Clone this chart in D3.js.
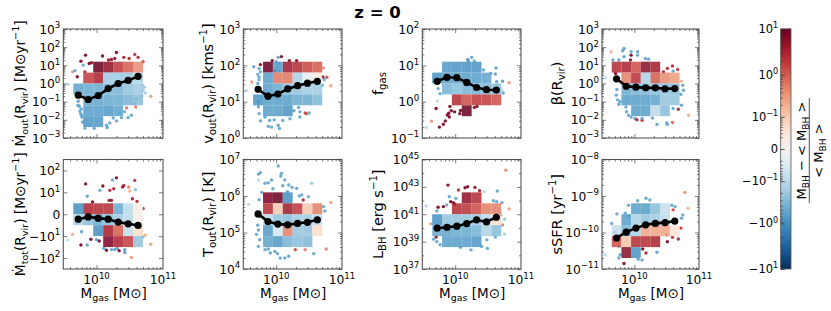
<!DOCTYPE html>
<html>
<head>
<meta charset="utf-8">
<script src="https://cdn.jsdelivr.net/npm/d3@7"></script>
<style>
  html, body { margin: 0; background: #fff; }
  text { font-family: "DejaVu Sans", sans-serif; fill: #000; }
  .domain { display: none; }
</style>
</head>
<body>
<div id="chart"></div>
<script>
// Mass bins shared by the median lines (log10 Msun)
const massBins = [9.725, 9.875, 10.025, 10.175, 10.325, 10.475, 10.625];

// Median lines
const outLine  = [-0.64, -0.88, -0.66, -0.28, 0, 0.17, 0.39];
const voutLine = [1.34, 1.15, 1.21, 1.35, 1.44, 1.51, 1.56];
const fgasLine = [0.56, 0.67, 0.66, 0.53, 0.39, 0.33, 0.32];
const betaLine = [0.26, -0.15, -0.2, -0.24, -0.24, -0.29, -0.28];
const totLine  = [-0.8, -0.38, -0.6, -0.8, -1.5, -2, -2.6];
const toutLine = [5.51, 5.30, 5.23, 5.21, 5.25, 5.28, 5.35];
const lbhLine  = [39.98, 40.05, 40.13, 40.32, 40.59, 40.44, 40.78];
const ssfrLine = [-10.15, -9.99, -9.88, -9.79, -9.75, -9.73, -9.69];

// Binned deviation, top row first, 10 x 10 across each axes box
const _ = null;
const outCells = [
  [_,_,_,_,_,_,_,_,_,_], [_,_,_,_,_,_,_,_,_,_], [_,_,_,_,_,_,_,_,_,_],
  [_,_,_,10,5,2,1,.4,_,_],
  [_,_,1.7,3,-.2,-.2,-.2,-.15,_,_],
  [_,-.6,-.5,-.5,-.4,-.4,-.25,-.2,_,_],
  [_,_,-.6,-.6,-.5,-.5,-.4,-.3,_,_],
  [_,_,-.7,-.7,-.8,-.6,_,_,_,_],
  [_,_,-.9,-.8,_,_,_,_,_,_],
  [_,_,_,_,_,_,_,_,_,_]
];
const voutCells = [
  [_,_,_,_,_,_,_,_,_,_], [_,_,_,_,_,_,_,_,_,_], [_,_,_,_,_,_,_,_,_,_],
  [_,_,10,-.7,4,2.5,1.5,1,_,_],
  [_,_,-.7,.6,.6,-.15,-.02,.02,_,_],
  [_,_,-.7,-.5,-.3,-.25,-.2,-.2,_,_],
  [_,-.9,-.7,-.7,-.7,-.5,-.5,-.35,_,_],
  [_,_,-.7,-.7,-.9,_,_,_,_,_],
  [_,_,_,_,_,_,_,_,_,_], [_,_,_,_,_,_,_,_,_,_]
];
const fgasCells = [
  [_,_,_,_,_,_,_,_,_,_], [_,_,_,_,_,_,_,_,_,_], [_,_,_,_,_,_,_,_,_,_],
  [_,_,-.8,-.9,-.9,-.9,_,_,_,_],
  [_,-.9,-.7,-.7,-.7,-.7,-.6,_,_,_],
  [_,_,-.4,-.3,-.4,-.4,-.4,-.3,_,_],
  [_,_,_,2.5,1.2,2,1.8,1.2,_,_],
  [_,_,_,_,10,_,_,_,_,_],
  [_,_,_,_,_,_,_,_,_,_], [_,_,_,_,_,_,_,_,_,_]
];
const betaCells = [
  [_,_,_,_,_,_,_,_,_,_], [_,_,_,_,_,_,_,_,_,_], [_,_,_,_,_,_,_,_,_,_],
  [_,2.5,3,1.2,6,3.5,_,_,_,_],
  [_,_,.5,2.2,-.15,1,.4,.3,_,_],
  [_,_,-.5,-.4,-.35,-.3,-.3,-.3,_,_],
  [_,_,-.7,-.7,-.7,-.6,-.25,-.25,_,_],
  [_,_,_,-.7,-.7,-.1,-.3,_,_,_],
  [_,_,_,_,_,_,_,_,_,_], [_,_,_,_,_,_,_,_,_,_]
];
const totCells = [
  [_,_,_,_,_,_,_,_,_,_], [_,_,_,_,_,_,_,_,_,_], [_,_,_,_,_,_,_,_,_,_], [_,_,_,_,_,_,_,_,_,_],
  [_,-1,3,2.5,2.5,-.5,-.1,.01,_,_],
  [_,-.15,-.3,-.5,-.3,-.2,-.1,.01,_,_],
  [_,_,_,-1,3.5,1,-.08,.05,_,_],
  [_,_,_,_,7,3,1.7,-.25,_,_],
  [_,_,_,_,_,_,_,_,_,_], [_,_,_,_,_,_,_,_,_,_]
];
const toutCells = [
  [_,_,_,_,_,_,_,_,_,_], [_,_,_,_,_,_,_,_,_,_], [_,_,_,_,_,_,_,_,_,_],
  [_,_,7,10,-1,_,_,_,_,_],
  [_,_,2.5,.1,4,2,.1,.5,_,_],
  [_,_,-.1,-.25,-.3,-.2,-.2,-.1,_,_],
  [_,_,-.8,-.05,.5,-.25,-.25,.05,_,_],
  [_,_,-.6,-.8,-.4,-.3,-.35,_,_,_],
  [_,_,_,_,_,_,_,_,_,_], [_,_,_,_,_,_,_,_,_,_]
];
const lbhCells = [
  [_,_,_,_,_,_,_,_,_,_], [_,_,_,_,_,_,_,_,_,_], [_,_,_,_,_,_,_,_,_,_],
  [_,_,_,_,5,2.5,_,_,_,_],
  [_,_,_,2.5,2.2,1.3,.5,.5,_,_],
  [_,-1,-.25,-.25,-.25,-.2,-.1,.05,_,_],
  [_,-.5,-.6,-.5,-.5,-.4,-.15,-.3,_,_],
  [_,_,-.7,-.7,-.7,-.8,_,_,_,_],
  [_,_,_,_,_,_,_,_,_,_], [_,_,_,_,_,_,_,_,_,_]
];
const ssfrCells = [
  [_,_,_,_,_,_,_,_,_,_], [_,_,_,_,_,_,_,_,_,_], [_,_,_,_,_,_,_,_,_,_], [_,_,_,_,_,_,_,_,_,_],
  [_,_,_,-.7,-.7,-.3,-.08,_,_,_],
  [_,_,-.7,-.15,-.25,-.2,-.1,_,_,_],
  [_,-.08,-.4,-.15,.25,.25,.25,.03,_,_],
  [_,1.2,.12,2.5,2.5,3,_,_,_,_],
  [_,_,6,-.9,_,_,_,_,_,_],
  [_,_,_,_,_,_,_,_,_,_]
];

// Scatter galaxies: log10 Mgas, log10 y (plain y for Mtot), deviation
const outPts = [
  [9.765,1.23,8],[9.835,1.56,8],[9.89,1.1,8],[9.925,1.14,6],[10.09,1.51,8],[10.18,1.29,6],[10.225,1.32,5],[10.3,1.71,8],
  [10.275,1.38,5],[10.41,1.44,4],[10.49,1.38,3],[10.575,1.6,2],[10.625,1.44,3],[10.7,1.2,1.5],[9.825,.64,3],[9.71,.37,8],
  [9.64,.64,.3],[9.675,.7,-.6],[9.8,1.01,-.5],[9.575,-.05,-.1],[10.815,-.7,.3],[10.735,-.52,-.15],[10.59,-.85,-.6],
  [10.59,-1.29,.5],[10.575,-1.1,.8],[10.45,-1.34,.8],[10.525,-1.75,-.6],[10.475,-1.88,-.6],[10.375,-1.88,-.6],[10.3,-2.06,-.6],
  [10.2,-2.17,-.6],[10.15,-2.3,-.6],[9.965,-2.47,-.6],[9.725,-.98,-.6],[9.74,-1.25,-.6],[9.75,-1.51,-.6],[9.775,-1.75,-.6],
  [9.79,-2.12,-.6],[9.76,-1.66,-.6],[9.825,-2.47,-.5],[10.69,-.1,-.2],[10.7,-.37,-.2],[10.6,.37,-.2],
  [10.25,-1.9,-.6],[10.35,-1.6,-.6],[10.42,-1.55,-.5],[10.16,-2.42,-.6],[9.78,-1.85,-.6],[9.72,-1.2,-.6],[9.77,-1.4,-.6],[10.68,-.68,-.2],[10.72,-.2,-.2]
];
const voutPts = [
  [9.66,1.96,-.6],[9.76,2.02,8],[9.74,1.91,-.6],[9.76,1.82,-.6],[9.74,1.68,-.6],[9.72,1.5,-.6],[9.94,2.13,8],[10.03,2.22,-.6],
  [10.08,2.24,8],[10,2.1,-.6],[10.05,1.85,-.6],[9.98,1.85,8],[10.2,2.13,8],[10.31,2.13,8],[10.72,1.93,.3],[10.71,1.68,8],
  [10.77,1.67,1.2],[10.73,1.61,-.6],[10.83,1.44,.3],[9.55,1.31,-.1],[9.63,1.54,.3],[9.73,.86,-.6],[9.74,.67,-.6],[9.76,.47,-.6],
  [9.88,.32,-.6],[9.93,.3,-.6],[10.03,.35,-.6],[10.05,.26,-.6],[9.83,.58,-.6],[10.21,.53,-.6],[10.34,.84,-.6],[10.36,.72,-.6],
  [10.46,.67,1],[10.36,.58,-.6],[10.44,.69,1.5],[10.5,.69,-.6],
  [9.72,1.75,-.5],[9.74,1.6,-.6],[10.05,2.05,-.6],[10.02,1.95,-.6],[9.97,.5,-.6],[10.1,.48,-.6],[9.9,.48,-.6],[10.27,.75,-.6],[10.7,1.45,-.6],[9.73,1.0,-.6]
];
const fgasPts = [
  [10.19,1.16,-.8],[10.25,1.22,-.7],[10.2,1.12,-.7],[10.29,1.12,-.5],[10.43,.87,-.6],[10.54,.78,-.6],[10.62,.93,-.7],[10.61,.76,-.6],
  [10.63,.55,-.6],[10.72,.56,-.7],[10.82,.52,.3],[10.71,.32,-.1],[10.73,.24,-.6],[9.74,.36,-.6],[9.77,.22,-.6],[9.73,.02,-.1],
  [9.71,-.19,8],[9.92,-.13,8],[9.94,-.25,8],[9.99,-.28,8],[9.88,-.37,8],[9.91,-.42,8],[9.9,-.32,8],[10.07,-.33,8],[10.08,-.24,8],
  [10.33,-.13,8],[10.29,-.16,6],[9.85,-.53,8],[9.82,-.62,8],[9.76,-.7,8],[9.64,-.54,.3],[9.56,-.71,-.1]
];
const betaPts = [
  [9.64,1.75,.2],[9.84,1.93,-.7],[9.82,1.8,-.7],[9.95,1.75,-.5],[10.05,1.75,-.6],[10.05,1.56,-.6],[9.95,1.56,8],[9.94,1.29,6],
  [9.84,1.47,-.7],[9.76,1.29,-.7],[9.67,1.29,-.7],[10.17,1.38,-.6],[10.22,1.34,-.6],[9.71,.55,8],[10.45,.64,4],[10.51,.83,3],
  [10.59,.97,3],[10.67,.77,2],[10.6,.68,-.6],[10.73,.13,.2],[10.75,-.09,-.6],[10.76,-.37,-.6],[9.73,-.33,-.6],[9.72,-.64,-.6],
  [9.76,-1.14,-.6],[9.87,-1.29,-.6],[9.91,-1.75,-.6],[10.01,-1.93,-.6],[10.04,-1.99,3],[10.12,-2.03,2],[10.35,-2.25,-.6],
  [10.5,-2.17,-.6],[10.51,-2.26,-.6],[10.59,-2.15,.8],[10.6,-1.38,-.6],[10.68,-1.42,3],[10.84,-1.75,.2],[9.55,.31,-.1],[10.73,-1.2,-.6],
  [9.74,-.9,-.6],[9.78,-1.0,-.6],[9.88,-1.55,-.6],[9.95,-1.85,-.6],[10.12,-1.92,-.6],[10.28,-1.9,-.6],[10.72,-.6,-.6]
];
const totPts = [
  [9.835,25,8],[10.24,38,-.6],[10.3,47,8],[9.86,6.3,-.6],[10.05,12.5,-.6],[10.095,20,8],[10.2,12.5,3],[10.26,15,3],[10.41,21,3],
  [10.485,18,.5],[10.575,36,2],[10.585,13.4,-.3],[10.5,11.6,.2],[10.39,18,4],[9.94,3,8],[10.19,3.8,6],[10.225,3.8,6],[10.54,4.7,4],
  [10.61,3.3,3],[10.7,.96,3],[9.64,-8.2,.2],[9.775,-6,-.7],[9.565,-15.5,-.1],[9.765,-26,8],[9.86,-26,-.7],[9.915,-14,8],[10.04,-17,8],
  [10,-15,-.7],[10.7,-10.7,-.3],[10.735,-9,.2],[10.815,-24,.3],[10.525,-94,.3],[10.11,-37,-.7],[10.15,-45,8],[10.225,-42,-.7],
  [10.275,-42,-.7],[10.31,-37,-.7],[10.34,-47,8],[10.425,-56,-.7],[10.425,-42,-.7]
];
const toutPts = [
  [9.73,6.6,-.6],[9.76,6.64,-.6],[10.03,6.82,-.6],[10.08,6.62,-.6],[10.07,6.55,-.6],[9.73,6.44,-.1],[9.93,6.44,-.6],[9.83,6.35,-.6],
  [9.88,6.36,-.6],[10.13,6.44,-.6],[10.19,6.3,-.6],[10.24,6.24,-.5],[10.54,6.35,-.2],[10.39,6.03,-.6],[10.41,5.89,3],[10.49,5.98,-.5],
  [10.31,6.21,-.6],[9.58,5.77,-.1],[10.83,5.82,.3],[10.72,5.71,-.6],[10.74,5.59,-.6],[9.75,5.44,-.6],[9.73,5.07,-.6],[9.75,4.8,-.6],
  [9.73,4.62,-.6],[9.91,4.44,-.6],[9.83,4.53,-.6],[10.06,4.3,-.6],[10.13,4.3,-.6],[10.19,4.35,-.6],[10.29,4.53,1.5],[10.44,4.53,.5],
  [10.57,4.42,-.6],[10.76,4.55,.5],[9.98,4.48,-.6],
  [9.95,6.2,-.6],[10.1,6.28,-.6],[10.17,6.12,-.6],[9.78,6.1,-.6],[9.74,5.9,-.6],[9.72,5.2,-.6],[9.7,4.95,-.6],[10.35,6.0,-.6],[10.02,4.42,-.6],[9.88,4.55,-.6]
];
const lbhPts = [
  [10.77,44.22,.4],[9.89,43.13,8],[10.05,42.77,2.5],[10.15,42.94,8],[10.19,43.01,8],[10.3,42.96,6],[10.37,42.72,4],[10.44,42.65,-.1],
  [10.64,42.7,-.6],[9.91,42.28,-.6],[9.82,41.56,8],[9.74,41.51,8],[9.87,41.68,-.6],[9.93,41.92,8],[9.97,41.85,8],[9.99,41.75,8],
  [10.01,42.16,-.6],[9.56,41.6,-.1],[9.72,41.24,-.6],[10.58,41.99,-.6],[10.63,41.92,-.6],[10.71,41.85,-.6],[10.82,41.39,.3],
  [10.69,40.93,-.6],[10.75,40.64,-.2],[9.63,40.3,.3],[10.72,40.22,.5],[9.67,39.18,-.6],[9.71,39.33,8],[9.72,39,-.6],[9.77,38.77,-.6],
  [10.24,38.4,-.6],[10.49,38.5,-.6],[10.4,38.65,-.6],[10.48,39.13,-.6],[10.61,39.33,-.6],[10.75,39.55,-.2],[10.08,38.58,-.7]
];
const ssfrPts = [
  [10.78,-8.9,.4],[10.18,-9.06,-.6],[10.05,-9.13,-.6],[10.24,-9.11,-.6],[9.91,-9.25,-.6],[10.58,-9.25,-.6],[10.63,-9.29,-.6],[10.6,-9.38,1.5],
  [10.83,-9.34,.2],[10.75,-9.52,-.6],[10.73,-9.61,-.6],[9.73,-9.49,-.6],[9.65,-9.75,-.6],[9.86,-9.47,-.6],[9.91,-9.54,-.6],[9.7,-10,-.6],
  [9.69,-10.2,-.6],[10.72,-9.88,2],[10.68,-10.18,3],[10.59,-10.13,2.5],[10.5,-10.06,3],[10.51,-10.25,8],[10.13,-10.45,8],[10.18,-10.56,3],
  [10.35,-10.54,-.6],[9.55,-10.61,-.1],[9.76,-10.7,-.6],[9.84,-10.85,8],[10.06,-10.73,-.6],[10.12,-10.75,-.6],[9.78,-10.61,-.6],[9.76,-10.38,-.6]
];

// Tick labels
const cbarTicks = [10, 1, .1, 0, -.1, -1, -10];
const cbarLabels = ['10^{1}', '10^{0}', '10^{−1}', '0', '−10^{−1}', '−10^{0}', '−10^{1}'];
const totTicks = [100, 10, 0, -10, -100];
const totLabels = ['10^{2}', '10^{1}', '0', '−10^{1}', '−10^{2}'];

const width = 831, height = 311;
const svg = d3.select('#chart').append('svg')
  .attr('width', width)
  .attr('height', height)
  .style('display', 'block');

// soften the marks a little, the original is a downsampled raster
svg.append('defs').append('filter')
    .attr('id', 'soft')
    .attr('x', '-5%').attr('y', '-5%')
    .attr('width', '110%').attr('height', '110%')
  .append('feGaussianBlur')
    .attr('stdDeviation', 0.45);

// sub/superscript text: "M_{gas} [M⊙]"
function rich(sel, str, size) {
  sel.text(null).attr('font-size', size);
  let shift = 0;
  for (const m of str.matchAll(/([_^])\{([^}]*)\}|([^_^]+)/g)) {
    const kind = m[1] === '_' ? 'sub' : m[1] === '^' ? 'sup' : null;
    const fs = kind ? size * 0.7 : size;
    const target = kind === 'sub' ? size * 0.22 : kind === 'sup' ? -size * 0.42 : 0;
    sel.append('tspan')
      .attr('font-size', fs)
      .attr('dy', target - shift)
      .text(m[2] !== undefined ? m[2] : m[3]);
    shift = target;
  }
}

// Deviation colour, symlog stretch fitted to the colourbar ticks
const devScale = d3.scaleSymlog().constant(0.025).domain([-10, 10]).range([0, 1]).clamp(true);
const devColor = v => d3.interpolateRdBu(1 - devScale(v));

const xTicksMinor = d3.range(4e9, 1e10, 1e9).concat(d3.range(2e10, 1e11, 1e10));

function logMinors(lo, hi) {
  const out = [];
  for (let e = lo; e < hi; e++) for (let k = 2; k < 10; k++) out.push(k * Math.pow(10, e));
  return out;
}

function logTicks(lo, hi, step) {
  const v = [];
  for (let e = lo; e <= hi; e += step) v.push(Math.pow(10, e));
  return v;
}

const tickSize = 12.3, labelSize = 14.5, dotLabelSize = 13.7;
const rowTop = [29, 138], rowBottom = [159.5, 269];
const cols = [[63.3, 163], [243.3, 342], [422.3, 521], [602, 699]];

const panels = [
  { col: 0, row: rowTop, lo: -3, hi: 3, step: 1, cells: outCells, pts: outPts, line: outLine, label: 'Ṁ_{out}(R_{vir}) [M⊙yr^{−1}]', lx: 25, ls: dotLabelSize },
  { col: 1, row: rowTop, lo: 0, hi: 3, step: 1, cells: voutCells, pts: voutPts, line: voutLine, label: 'v_{out}(R_{vir}) [kms^{−1}]', lx: 213, ls: labelSize },
  { col: 2, row: rowTop, lo: -1, hi: 2, step: 1, cells: fgasCells, pts: fgasPts, line: fgasLine, label: 'f_{gas}', lx: 383, ls: labelSize },
  { col: 3, row: rowTop, lo: -3, hi: 3, step: 1, cells: betaCells, pts: betaPts, line: betaLine, label: 'β(R_{vir})', lx: 562, ls: labelSize },
  { col: 0, row: rowBottom, sym: true, cells: totCells, pts: totPts, line: totLine, label: 'Ṁ_{tot}(R_{vir}) [M⊙yr^{−1}]', lx: 25, ls: dotLabelSize },
  { col: 1, row: rowBottom, lo: 4, hi: 7, step: 1, cells: toutCells, pts: toutPts, line: toutLine, label: 'T_{out}(R_{vir}) [K]', lx: 213, ls: labelSize },
  { col: 2, row: rowBottom, lo: 37, hi: 45, step: 2, cells: lbhCells, pts: lbhPts, line: lbhLine, label: 'L_{BH} [erg s^{−1}]', lx: 383, ls: labelSize },
  { col: 3, row: rowBottom, lo: -11, hi: -8, step: 1, cells: ssfrCells, pts: ssfrPts, line: ssfrLine, label: 'sSFR [yr^{−1}]', lx: 562, ls: labelSize }
];

panels.forEach(p => {
  const [x0, x1] = cols[p.col];
  const [y0, y1] = p.row;
  const bottomRow = p.row === rowBottom;

  const x = d3.scaleLog().domain([Math.pow(10, 9.5), 1e11]).range([x0, x1]);
  const y = p.sym
    ? d3.scaleSymlog().constant(1.25).domain([-302, 302]).range([y1, y0])
    : d3.scaleLog().domain([Math.pow(10, p.lo), Math.pow(10, p.hi)]).range([y1, y0]);
  const yVal = v => p.sym ? v : Math.pow(10, v);

  // the binned image fills a 10 x 10 grid of the axes box
  const gx = d3.scaleLinear().domain([0, 10]).range([x0, x1]);
  const gy = d3.scaleLinear().domain([0, 10]).range([y0, y1]);

  const g = svg.append('g');
  const marks = g.append('g').attr('filter', 'url(#soft)');

  marks.append('g').selectAll('circle')
    .data(p.pts)
    .join('circle')
      .attr('cx', d => x(Math.pow(10, d[0])))
      .attr('cy', d => y(yVal(d[1])))
      .attr('r', 1.7)
      .attr('fill', d => devColor(d[2]))
      .attr('opacity', 0.9);

  const cells = [];
  p.cells.forEach((r, i) => r.forEach((v, j) => { if (v !== null) cells.push({ i, j, v }); }));
  marks.append('g').selectAll('rect')
    .data(cells)
    .join('rect')
      .attr('x', d => gx(d.j))
      .attr('y', d => gy(d.i))
      .attr('width', gx(1) - gx(0))
      .attr('height', gy(1) - gy(0))
      .attr('fill', d => devColor(d.v))
      .attr('opacity', 0.85);

  const lineGen = d3.line()
    .x((d, i) => x(Math.pow(10, massBins[i])))
    .y(d => y(yVal(d)));
  marks.append('path')
    .attr('d', lineGen(p.line))
    .attr('fill', 'none')
    .attr('stroke', '#000')
    .attr('stroke-width', 2.6);
  marks.append('g').selectAll('circle')
    .data(p.line)
    .join('circle')
      .attr('cx', (d, i) => x(Math.pow(10, massBins[i])))
      .attr('cy', d => y(yVal(d)))
      .attr('r', 3.6)
      .attr('fill', '#000');

  // frame
  g.append('rect')
    .attr('x', x0).attr('y', y0)
    .attr('width', x1 - x0).attr('height', y1 - y0)
    .attr('fill', 'none')
    .attr('stroke', '#555')
    .attr('stroke-width', 1.1);

  // axes: every side mirrored with ticks pointing in
  const yMajor = p.sym ? totTicks : logTicks(p.lo, p.hi, p.step);
  const yMinor = p.sym ? [] : p.step === 2 ? logTicks(p.lo + 1, p.hi - 1, 2) : logMinors(p.lo, p.hi);
  const xMajor = [1e10];

  const tickAxis = (axis, tx, ty, vals, len) => g.append('g')
    .attr('transform', `translate(${tx},${ty})`)
    .call(axis.tickValues(vals).tickSize(-len).tickFormat(''))
    .call(s => s.selectAll('line').attr('stroke', '#444').attr('stroke-width', 0.7));

  tickAxis(d3.axisTop(x), 0, y0, xMajor, 4);
  tickAxis(d3.axisTop(x), 0, y0, xTicksMinor, 2);
  tickAxis(d3.axisBottom(x), 0, y1, xMajor, 4);
  tickAxis(d3.axisBottom(x), 0, y1, xTicksMinor, 2);
  tickAxis(d3.axisLeft(y), x0, 0, yMajor, 4);
  tickAxis(d3.axisLeft(y), x0, 0, yMinor, 2);
  tickAxis(d3.axisRight(y), x1, 0, yMajor, 4);
  tickAxis(d3.axisRight(y), x1, 0, yMinor, 2);

  // y tick labels
  const yLab = (d, i) => p.sym ? totLabels[i] : `10^{${Math.round(Math.log10(d))}}`.replace('-', '−');
  g.append('g').selectAll('text')
    .data(yMajor)
    .join('text')
      .attr('x', x0 - 3)
      .attr('y', d => y(d) + 4.5)
      .attr('text-anchor', 'end')
      .each(function(d, i) { rich(d3.select(this), yLab(d, i), tickSize); });

  if (bottomRow) {
    g.append('g').selectAll('text')
      .data([1e10, 1e11])
      .join('text')
        .attr('x', d => x(d))
        .attr('y', y1 + 15)
        .attr('text-anchor', 'middle')
        .each(function(d) { rich(d3.select(this), `10^{${Math.round(Math.log10(d))}}`, tickSize); });
    g.append('text')
      .attr('x', (x0 + x1) / 2 + 0.5)
      .attr('y', y1 + 29)
      .attr('text-anchor', 'middle')
      .call(rich, 'M_{gas} [M⊙]', 13.5);
  }

  g.append('text')
    .attr('transform', `translate(${p.lx},${(y0 + y1) / 2}) rotate(-90)`)
    .attr('text-anchor', 'middle')
    .call(rich, p.label, p.ls);
});

// Title
svg.append('text')
  .attr('x', 377.5)
  .attr('y', 18)
  .attr('text-anchor', 'middle')
  .attr('font-size', 16.5)
  .attr('font-weight', 'bold')
  .text('z = 0');

// Colourbar
const cbX0 = 780.7, cbX1 = 791, cbY0 = 29, cbY1 = 269;
const cbY = d3.scaleSymlog().constant(0.025).domain([-10, 10]).range([cbY1, cbY0]);
const cb = svg.append('g');
const cbSteps = d3.range(0, 1, 1 / 240);
const cbT = d3.scaleLinear().domain([0, 1]).range([cbY1, cbY0]);
cb.selectAll('rect')
  .data(cbSteps)
  .join('rect')
    .attr('x', cbX0)
    .attr('width', cbX1 - cbX0)
    .attr('y', d => cbT(d) - 1.4)
    .attr('height', 1.4)
    .attr('fill', d => d3.interpolateRdBu(1 - d));
cb.append('rect')
  .attr('x', cbX0).attr('y', cbY0)
  .attr('width', cbX1 - cbX0).attr('height', cbY1 - cbY0)
  .attr('fill', 'none')
  .attr('stroke', '#555')
  .attr('stroke-width', 0.8);

const cbMinor = [];
[-1, 0].forEach(e => d3.range(2, 10).forEach(k => {
  cbMinor.push(k * Math.pow(10, e), -k * Math.pow(10, e));
}));
d3.range(2, 10).forEach(k => cbMinor.push(k * 0.01, -k * 0.01));

cb.append('g')
  .attr('transform', `translate(${cbX0},0)`)
  .call(d3.axisLeft(cbY).tickValues(cbMinor).tickSize(-2).tickFormat(''))
  .call(s => s.selectAll('line').attr('stroke', '#333').attr('stroke-width', 0.7));
cb.append('g')
  .attr('transform', `translate(${cbX0},0)`)
  .call(d3.axisLeft(cbY).tickValues(cbarTicks).tickSize(-4).tickFormat(''))
  .call(s => s.selectAll('line').attr('stroke', '#333').attr('stroke-width', 0.8));
cb.append('g').selectAll('text')
  .data(cbarTicks)
  .join('text')
    .attr('x', cbX0 - 2.5)
    .attr('y', d => cbY(d) + 4)
    .attr('text-anchor', 'end')
    .each(function(d, i) { rich(d3.select(this), cbarLabels[i], 11.5); });

// Colourbar label, a rotated fraction
cb.append('text')
  .attr('transform', 'translate(806,150.5) rotate(-90)')
  .attr('text-anchor', 'middle')
  .call(rich, 'M_{BH} − < M_{BH} >', 13);
cb.append('line')
  .attr('x1', 809.3).attr('x2', 809.3)
  .attr('y1', 98).attr('y2', 203)
  .attr('stroke', '#222')
  .attr('stroke-width', 0.8);
cb.append('text')
  .attr('transform', 'translate(823,150.5) rotate(-90)')
  .attr('text-anchor', 'middle')
  .call(rich, '< M_{BH} >', 13);
</script>
</body>
</html>
